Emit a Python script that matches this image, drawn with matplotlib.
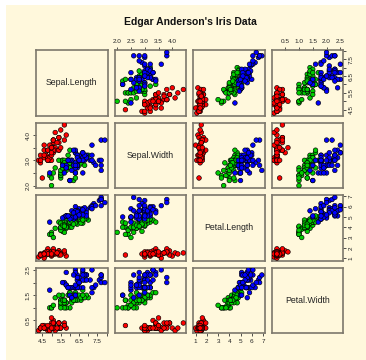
import numpy as np
import matplotlib
matplotlib.use("Agg")
import matplotlib.pyplot as plt
from matplotlib.patches import Rectangle

# Edgar Anderson's iris data (setosa, versicolor, virginica: 50 each)
sepal_length = [
    5.1, 4.9, 4.7, 4.6, 5.0, 5.4, 4.6, 5.0, 4.4, 4.9, 5.4, 4.8, 4.8, 4.3, 5.8, 5.7, 5.4, 5.1, 5.7, 5.1,
    5.4, 5.1, 4.6, 5.1, 4.8, 5.0, 5.0, 5.2, 5.2, 4.7, 4.8, 5.4, 5.2, 5.5, 4.9, 5.0, 5.5, 4.9, 4.4, 5.1,
    5.0, 4.5, 4.4, 5.0, 5.1, 4.8, 5.1, 4.6, 5.3, 5.0,
    7.0, 6.4, 6.9, 5.5, 6.5, 5.7, 6.3, 4.9, 6.6, 5.2, 5.0, 5.9, 6.0, 6.1, 5.6, 6.7, 5.6, 5.8, 6.2, 5.6,
    5.9, 6.1, 6.3, 6.1, 6.4, 6.6, 6.8, 6.7, 6.0, 5.7, 5.5, 5.5, 5.8, 6.0, 5.4, 6.0, 6.7, 6.3, 5.6, 5.5,
    5.5, 6.1, 5.8, 5.0, 5.6, 5.7, 5.7, 6.2, 5.1, 5.7,
    6.3, 5.8, 7.1, 6.3, 6.5, 7.6, 4.9, 7.3, 6.7, 7.2, 6.5, 6.4, 6.8, 5.7, 5.8, 6.4, 6.5, 7.7, 7.7, 6.0,
    6.9, 5.6, 7.7, 6.3, 6.7, 7.2, 6.2, 6.1, 6.4, 7.2, 7.4, 7.9, 6.4, 6.3, 6.1, 7.7, 6.3, 6.4, 6.0, 6.9,
    6.7, 6.9, 5.8, 6.8, 6.7, 6.7, 6.3, 6.5, 6.2, 5.9]
sepal_width = [
    3.5, 3.0, 3.2, 3.1, 3.6, 3.9, 3.4, 3.4, 2.9, 3.1, 3.7, 3.4, 3.0, 3.0, 4.0, 4.4, 3.9, 3.5, 3.8, 3.8,
    3.4, 3.7, 3.6, 3.3, 3.4, 3.0, 3.4, 3.5, 3.4, 3.2, 3.1, 3.4, 4.1, 4.2, 3.1, 3.2, 3.5, 3.6, 3.0, 3.4,
    3.5, 2.3, 3.2, 3.5, 3.8, 3.0, 3.8, 3.2, 3.7, 3.3,
    3.2, 3.2, 3.1, 2.3, 2.8, 2.8, 3.3, 2.4, 2.9, 2.7, 2.0, 3.0, 2.2, 2.9, 2.9, 3.1, 3.0, 2.7, 2.2, 2.5,
    3.2, 2.8, 2.5, 2.8, 2.9, 3.0, 2.8, 3.0, 2.9, 2.6, 2.4, 2.4, 2.7, 2.7, 3.0, 3.4, 3.1, 2.3, 3.0, 2.5,
    2.6, 3.0, 2.6, 2.3, 2.7, 3.0, 2.9, 2.9, 2.5, 2.8,
    3.3, 2.7, 3.0, 2.9, 3.0, 3.0, 2.5, 2.9, 2.5, 3.6, 3.2, 2.7, 3.0, 2.5, 2.8, 3.2, 3.0, 3.8, 2.6, 2.2,
    3.2, 2.8, 2.8, 2.7, 3.3, 3.2, 2.8, 3.0, 2.8, 3.0, 2.8, 3.8, 2.8, 2.8, 2.6, 3.0, 3.4, 3.1, 3.0, 3.1,
    3.1, 3.1, 2.7, 3.2, 3.3, 3.0, 2.5, 3.0, 3.4, 3.0]
petal_length = [
    1.4, 1.4, 1.3, 1.5, 1.4, 1.7, 1.4, 1.5, 1.4, 1.5, 1.5, 1.6, 1.4, 1.1, 1.2, 1.5, 1.3, 1.4, 1.7, 1.5,
    1.7, 1.5, 1.0, 1.7, 1.9, 1.6, 1.6, 1.5, 1.4, 1.6, 1.6, 1.5, 1.5, 1.4, 1.5, 1.2, 1.3, 1.4, 1.3, 1.5,
    1.3, 1.3, 1.3, 1.6, 1.9, 1.4, 1.6, 1.4, 1.5, 1.4,
    4.7, 4.5, 4.9, 4.0, 4.6, 4.5, 4.7, 3.3, 4.6, 3.9, 3.5, 4.2, 4.0, 4.7, 3.6, 4.4, 4.5, 4.1, 4.5, 3.9,
    4.8, 4.0, 4.9, 4.7, 4.3, 4.4, 4.8, 5.0, 4.5, 3.5, 3.8, 3.7, 3.9, 5.1, 4.5, 4.5, 4.7, 4.4, 4.1, 4.0,
    4.4, 4.6, 4.0, 3.3, 4.2, 4.2, 4.2, 4.3, 3.0, 4.1,
    6.0, 5.1, 5.9, 5.6, 5.8, 6.6, 4.5, 6.3, 5.8, 6.1, 5.1, 5.3, 5.5, 5.0, 5.1, 5.3, 5.5, 6.7, 6.9, 5.0,
    5.7, 4.9, 6.7, 4.9, 5.7, 6.0, 4.8, 4.9, 5.6, 5.8, 6.1, 6.4, 5.6, 5.1, 5.6, 6.1, 5.6, 5.5, 4.8, 5.4,
    5.6, 5.1, 5.1, 5.9, 5.7, 5.2, 5.0, 5.2, 5.4, 5.1]
petal_width = [
    0.2, 0.2, 0.2, 0.2, 0.2, 0.4, 0.3, 0.2, 0.2, 0.1, 0.2, 0.2, 0.1, 0.1, 0.2, 0.4, 0.4, 0.3, 0.3, 0.3,
    0.2, 0.4, 0.2, 0.5, 0.2, 0.2, 0.4, 0.2, 0.2, 0.2, 0.2, 0.4, 0.1, 0.2, 0.2, 0.2, 0.2, 0.1, 0.2, 0.2,
    0.3, 0.3, 0.2, 0.6, 0.4, 0.3, 0.2, 0.2, 0.2, 0.2,
    1.4, 1.5, 1.5, 1.3, 1.5, 1.3, 1.6, 1.0, 1.3, 1.4, 1.0, 1.5, 1.0, 1.4, 1.3, 1.4, 1.5, 1.0, 1.5, 1.1,
    1.8, 1.3, 1.5, 1.2, 1.3, 1.4, 1.4, 1.7, 1.5, 1.0, 1.1, 1.0, 1.2, 1.6, 1.5, 1.6, 1.5, 1.3, 1.3, 1.3,
    1.2, 1.4, 1.2, 1.0, 1.3, 1.2, 1.3, 1.3, 1.1, 1.3,
    2.5, 1.9, 2.1, 1.8, 2.2, 2.1, 1.7, 1.8, 1.8, 2.5, 2.0, 1.9, 2.1, 2.0, 2.4, 2.3, 1.8, 2.2, 2.3, 1.5,
    2.3, 2.0, 2.0, 1.8, 2.1, 1.8, 1.8, 1.8, 2.1, 1.6, 1.9, 2.0, 2.2, 1.5, 1.4, 2.3, 2.4, 1.8, 1.8, 2.1,
    2.4, 2.3, 1.9, 2.3, 2.5, 2.3, 1.9, 2.0, 2.3, 1.8]
species = [0] * 50 + [1] * 50 + [2] * 50

var_names = ["Sepal.Length", "Sepal.Width", "Petal.Length", "Petal.Width"]
species_colors = ["#FF0000", "#00CD00", "#0000FF"]

# tick positions and which of them get a label (horizontal / vertical axes)
ticks = [
    [4.5, 5.0, 5.5, 6.0, 6.5, 7.0, 7.5, 8.0],
    [2.0, 2.5, 3.0, 3.5, 4.0],
    [1, 2, 3, 4, 5, 6, 7],
    [0.5, 1.0, 1.5, 2.0, 2.5],
]
labels_h = [
    ["4.5", "", "5.5", "", "6.5", "", "7.5", ""],
    ["2.0", "2.5", "3.0", "3.5", "4.0"],
    ["1", "2", "3", "4", "5", "6", "7"],
    ["0.5", "1.0", "1.5", "2.0", "2.5"],
]
labels_v = [
    ["4.5", "", "5.5", "", "6.5", "", "7.5", ""],
    ["2.0", "", "3.0", "", "4.0"],
    ["1", "2", "3", "4", "5", "6", "7"],
    ["0.5", "", "1.5", "", "2.5"],
]

data = np.array([sepal_length, sepal_width, petal_length, petal_width])
cols = np.array(species_colors)[species]

plt.rcParams['font.family'] = ['Liberation Sans', 'DejaVu Sans']

W, H = 366, 360
fig = plt.figure(figsize=(W / 100, H / 100), dpi=100, facecolor="white")
fig.patches.append(Rectangle((6 / W, 0), 1, 1 - 5 / H, transform=fig.transFigure,
                             facecolor="#FFF8DC", edgecolor="none", zorder=-10))

fig.text(190 / W, 1 - 22 / H, "Edgar Anderson's Iris Data", ha="center", va="center",
         fontsize=7.5, fontweight="bold", color="#111111")

left, top = 36, 50
pw, ph, gap = 71.5, 65.5, 7
frame_col = "#7d786c"
n = 4

for i in range(n):          # row
    for j in range(n):      # column
        x0 = left + j * (pw + gap)
        y0 = top + i * (ph + gap)
        ax = fig.add_axes([x0 / W, 1 - (y0 + ph) / H, pw / W, ph / H])
        ax.set_facecolor("none")
        for s in ax.spines.values():
            s.set_color(frame_col)
            s.set_linewidth(1.2)

        xr = data[j].max() - data[j].min()
        yr = data[i].max() - data[i].min()
        ax.set_xlim(data[j].min() - 0.04 * xr, data[j].max() + 0.04 * xr)
        ax.set_ylim(data[i].min() - 0.04 * yr, data[i].max() + 0.04 * yr)

        if i == j:
            ax.set_xlim(0, 1)
            ax.set_ylim(0, 1)
            ax.text(0.5, 0.5, var_names[i], ha="center", va="center",
                    fontsize=6.3, color="#222222", transform=ax.transAxes)
        else:
            ax.scatter(data[j], data[i], s=11, c=cols, edgecolors="black",
                       linewidths=0.45, zorder=3)

        ax.tick_params(length=2.5, width=0.6, color="#333333", labelsize=4.6,
                       labelcolor="#222222", pad=1.5)

        # horizontal axes: top on columns 2/4, bottom on columns 1/3
        if i == 0 and j % 2 == 1:
            ax.xaxis.set_ticks_position("top")
            ax.set_xticks(ticks[j])
            ax.set_xticklabels(labels_h[j])
        elif i == n - 1 and j % 2 == 0:
            ax.xaxis.set_ticks_position("bottom")
            ax.set_xticks(ticks[j])
            ax.set_xticklabels(labels_h[j])
        else:
            ax.set_xticks([])

        # vertical axes: left on rows 2/4, right on rows 1/3
        if j == 0 and i % 2 == 1:
            ax.yaxis.set_ticks_position("left")
            ax.set_yticks(ticks[i])
            ax.set_yticklabels(labels_v[i], rotation=90, va="center")
        elif j == n - 1 and i % 2 == 0:
            ax.yaxis.set_ticks_position("right")
            ax.set_yticks(ticks[i])
            ax.set_yticklabels(labels_v[i], rotation=90, va="center")
        else:
            ax.set_yticks([])

fig.savefig("out.png", dpi=100, facecolor=fig.get_facecolor())
